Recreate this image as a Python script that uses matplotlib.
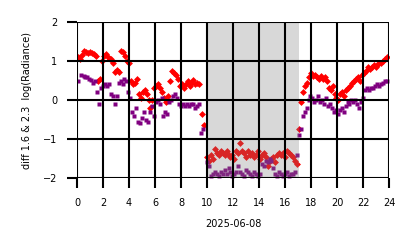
import matplotlib
matplotlib.use("Agg")
import matplotlib.pyplot as plt
import numpy as np

red_t = [0.1,0.25,0.4,0.55,0.7,0.85,1.0,1.15,1.3,1.45,1.6,1.75,1.9,2.05,2.2,2.35,2.5,2.65,2.8,
         2.95,3.1,3.25,3.4,3.55,3.7,3.85,4.0,4.15,4.3,4.45,4.6,4.75,4.9,5.05,5.2,5.35,5.5,5.65,5.8,
         5.95,6.1,6.25,6.4,6.55,6.7,6.85,7.0,7.15,7.3,7.45,7.6,7.75,7.9,8.05,8.2,8.35,8.5,8.65,8.8,
         8.95,9.1,9.25,9.4,9.6,9.75,
         10.0,10.15,10.3,10.45,10.6,10.75,10.9,11.05,11.2,11.35,11.5,11.65,11.8,11.95,12.1,12.25,
         12.4,12.55,12.7,12.85,13.0,13.15,13.3,13.45,13.6,13.75,13.9,14.05,14.2,14.35,14.5,14.65,
         14.8,14.95,15.1,15.25,15.4,15.55,15.7,15.85,16.0,16.15,16.3,16.45,16.6,16.75,16.9,
         17.05,17.25,17.4,17.55,17.7,17.85,18.0,18.15,18.3,18.45,18.6,18.75,18.9,19.05,19.2,19.35,
         19.5,19.65,19.8,19.95,20.1,20.25,20.4,20.55,20.7,20.85,21.0,21.15,21.3,21.45,21.6,21.75,
         21.9,22.05,22.2,22.35,22.5,22.65,22.8,22.95,23.1,23.25,23.4,23.55,23.7,23.85]
red_v = [1.1,1.05,1.15,1.25,1.22,1.2,1.22,1.2,1.18,1.12,0.5,0.55,1.0,1.12,1.18,1.1,1.05,1.05,0.95,
         0.72,0.78,0.72,1.25,1.22,1.12,1.0,0.95,0.5,0.42,0.45,0.55,0.15,0.05,0.2,0.25,0.15,0.0,-0.2,0.0,
         0.3,0.35,0.42,0.3,0.2,0.05,-0.05,0.1,0.5,0.75,0.7,0.65,0.55,0.35,0.4,0.3,0.4,0.5,0.35,0.45,
         0.52,0.4,0.45,0.4,-0.35,-0.65,
         -1.45,-1.55,-1.4,-1.5,-1.25,-1.35,-1.4,-1.3,-1.35,-1.4,-1.3,-1.4,-1.45,-1.4,-1.5,-1.3,
         -1.35,-1.1,-1.3,-1.35,-1.45,-1.3,-1.4,-1.35,-1.45,-1.4,-1.3,-1.5,-1.4,-1.35,-1.45,-1.7,
         -1.55,-1.5,-1.45,-1.6,-1.4,-1.35,-1.4,-1.35,-1.45,-1.3,-1.35,-1.4,-1.45,-1.55,-1.65,
         -0.75,-0.05,0.2,0.35,0.45,0.6,0.7,0.62,0.65,0.6,0.55,0.62,0.55,0.6,0.5,0.3,
         0.25,0.35,0.15,0.05,0.0,0.15,0.2,0.1,0.25,0.3,0.35,0.45,0.5,0.55,0.6,0.5,
         0.65,0.7,0.75,0.85,0.8,0.85,0.9,0.85,0.9,0.95,0.95,1.0,1.05,1.1]

pur_t = [0.1,0.3,0.5,0.65,0.8,0.95,1.1,1.25,1.4,1.55,1.7,1.85,2.0,2.15,2.3,2.45,2.6,2.75,2.9,3.05,
         3.2,3.35,3.5,3.65,3.8,3.95,4.1,4.25,4.4,4.55,4.7,4.85,5.0,5.15,5.3,5.45,5.6,5.75,5.9,6.05,
         6.2,6.35,6.5,6.65,6.8,6.95,7.1,7.25,7.4,7.55,7.7,7.85,8.0,8.15,8.3,8.45,8.6,8.75,8.9,9.05,
         9.2,9.35,9.5,9.65,
         10.0,10.15,10.3,10.45,10.6,10.75,10.9,11.05,11.2,11.35,11.5,11.65,11.8,11.95,12.1,12.25,
         12.4,12.55,12.7,12.85,13.0,13.15,13.3,13.45,13.6,13.75,13.9,14.05,14.2,14.35,14.5,14.65,
         14.8,14.95,15.1,15.25,15.4,15.55,15.7,15.85,16.0,16.15,16.3,16.45,16.6,16.75,16.9,
         17.05,17.2,17.35,17.5,17.65,17.8,17.95,18.1,18.25,18.4,18.55,18.7,18.85,19.0,19.15,19.3,
         19.45,19.6,19.75,19.9,20.05,20.2,20.35,20.5,20.65,20.8,20.95,21.1,21.25,21.4,21.55,21.7,
         21.85,22.0,22.15,22.3,22.45,22.6,22.75,22.9,23.05,23.2,23.35,23.5,23.65,23.8]
pur_v = [0.5,0.65,0.62,0.58,0.6,0.55,0.52,0.45,0.5,0.2,-0.1,0.3,0.35,0.4,0.35,0.4,0.15,0.1,-0.1,0.1,
         0.45,0.5,0.4,0.55,0.5,0.2,0.05,-0.3,-0.4,-0.2,-0.55,-0.6,-0.45,-0.3,-0.5,-0.55,-0.3,-0.15,-0.4,-0.05,
         0.0,-0.1,0.05,-0.4,-0.3,-0.35,-0.05,0.0,0.1,0.15,0.05,-0.1,-0.15,-0.1,-0.15,-0.1,-0.15,-0.1,-0.1,-0.2,
         -0.15,-0.1,-0.85,-0.75,
         -1.6,-1.7,-1.95,-1.9,-1.85,-1.9,-1.95,-1.85,-1.9,-1.8,-1.9,-1.75,-1.85,-1.95,-1.9,-1.85,
         -1.7,-1.85,-1.9,-1.95,-1.8,-1.85,-1.9,-1.95,-1.85,-1.9,-1.95,-1.9,-1.65,-1.7,-1.55,-1.6,
         -1.5,-1.55,-1.75,-1.9,-1.95,-1.85,-1.9,-1.95,-1.9,-1.85,-1.95,-1.9,-1.9,-1.85,-1.4,
         -0.9,-0.75,-0.4,-0.3,-0.2,0.0,0.1,0.05,-0.05,0.0,0.1,-0.05,0.0,-0.1,0.05,-0.15,
         -0.1,-0.2,-0.3,-0.25,-0.35,-0.25,-0.2,-0.3,-0.15,-0.05,-0.1,0.0,-0.05,0.0,-0.1,-0.2,
         -0.05,0.05,0.25,0.3,0.25,0.3,0.3,0.35,0.4,0.35,0.4,0.45,0.5,0.5]

shade_start, shade_end = 9.9, 17.1
xticks = list(range(0, 25, 2))
yticks = [-2, -1, 0, 1, 2]

fig = plt.figure(figsize=(4.14, 2.48), dpi=100)
ax = fig.add_axes([0.186, 0.282, 0.754, 0.629])
ax.plot(red_t, red_v, linestyle='none', marker='D', ms=3.5, color='red', mec='none', zorder=2)
ax.plot(pur_t, pur_v, linestyle='none', marker='s', ms=3.0, color='purple', mec='none', zorder=2)
ax.axvspan(shade_start, shade_end, color='gray', alpha=0.3, lw=0, zorder=2.2)
ax.set_xlim(0, 24)
ax.set_ylim(-2, 2)
ax.set_xticks(xticks)
ax.set_yticks(yticks)
ax.set_axisbelow(False)
ax.grid(True, color='black', lw=1.5, zorder=3)
for s in ax.spines.values():
    s.set_visible(False)
ax.tick_params(axis='both', labelsize=7, length=7, width=1.5, color='black',
               direction='out', pad=7)
ax.set_xlabel('2025-06-08', fontsize=7, labelpad=8)
ax.set_ylabel('diff 1.6 & 2.3  log(Radiance)', fontsize=7, labelpad=8)
fig.savefig('out.png', dpi=100)
